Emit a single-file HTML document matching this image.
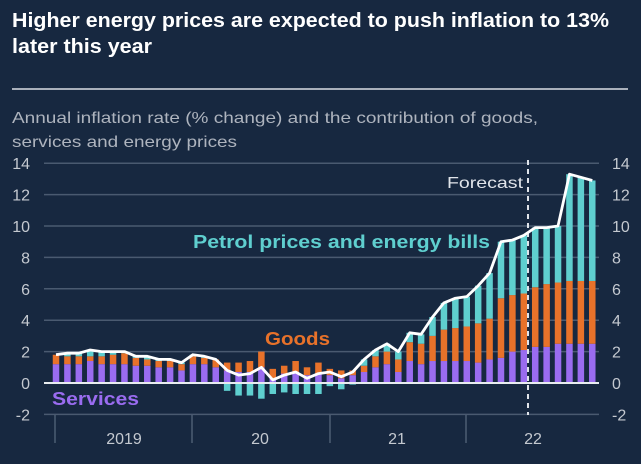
<!DOCTYPE html>
<html><head><meta charset="utf-8"><style>
html,body{margin:0;padding:0;background:#172840;}
svg{display:block;font-family:"Liberation Sans",Arial,sans-serif;}
</style></head><body>
<svg id="c" width="641" height="464" viewBox="0 0 641 464" xmlns="http://www.w3.org/2000/svg">
<rect width="641" height="464" fill="#172840"/>
<text x="12" y="27" fill="#fff" font-size="20" font-weight="bold" textLength="597" lengthAdjust="spacingAndGlyphs">Higher energy prices are expected to push inflation to 13%</text>
<text x="12" y="53" fill="#fff" font-size="20" font-weight="bold" textLength="140" lengthAdjust="spacingAndGlyphs">later this year</text>
<rect x="12" y="88" width="616" height="2" fill="#a9b0bb"/>
<text x="12" y="123" fill="#aeb4be" font-size="16" textLength="526" lengthAdjust="spacingAndGlyphs">Annual inflation rate (% change) and the contribution of goods,</text>
<text x="12" y="147" fill="#aeb4be" font-size="16" textLength="225" lengthAdjust="spacingAndGlyphs">services and energy prices</text>
<g id="grid"></g>
<g id="bars"></g>
<g id="fg"></g>
</svg>
<script>
var NS="http://www.w3.org/2000/svg";
function el(p,t,a,txt){var e=document.createElementNS(NS,t);for(var k in a)e.setAttribute(k,a[k]);if(txt!==undefined)e.textContent=txt;p.appendChild(e);return e;}
var Y=function(v){return 383-v*15.7;};
var grid=document.getElementById('grid'),bars=document.getElementById('bars'),fg=document.getElementById('fg');
for(var v=-2;v<=14;v+=2){
  if(v!==0) el(grid,'line',{x1:44,x2:599,y1:Y(v),y2:Y(v),stroke:'#4a5a70','stroke-width':1.5});
  el(grid,'text',{x:30,y:Y(v)+6,fill:'#c4c9d0','font-size':16,'text-anchor':'end'},v);
  el(grid,'text',{x:612,y:Y(v)+6,fill:'#c4c9d0','font-size':16},v);
}
[55,192,330,466].forEach(function(x){el(grid,'line',{x1:x,x2:x,y1:415,y2:443,stroke:'#5a6a80','stroke-width':1.2});});
[[124,'2019'],[260,'20'],[397,'21'],[533,'22']].forEach(function(a){el(grid,'text',{x:a[0],y:444,fill:'#c4c9d0','font-size':16,'text-anchor':'middle'},a[1]);});
var T=[1.8,1.9,1.9,2.1,2.0,2.0,2.0,1.7,1.7,1.5,1.5,1.3, 1.8,1.7,1.5,0.8,0.5,0.6,1.0,0.2,0.5,0.7,0.3,0.6, 0.7,0.4,0.7,1.5,2.1,2.5,2.0,3.2,3.1,4.2,5.1,5.4, 5.5,6.2,7.0,9.0,9.1,9.4,9.9,9.9,10.0,13.3,13.1,12.9];
var S=[1.2,1.2,1.2,1.4,1.2,1.2,1.2,1.1,1.1,1.0,1.0,0.8, 1.2,1.2,1.0,0.8,0.7,0.7,1.0,0.3,0.6,0.7,0.5,0.6, 0.5,0.3,0.5,0.7,1.0,1.2,0.7,1.4,1.2,1.4,1.4,1.4, 1.4,1.3,1.5,1.6,2.0,2.1,2.3,2.3,2.5,2.5,2.5,2.5];
var G=[0.6,0.5,0.5,0.3,0.5,0.6,0.7,0.5,0.4,0.4,0.4,0.4, 0.5,0.4,0.5,0.5,0.6,0.7,1.0,0.6,0.5,0.7,0.5,0.7, 0.4,0.5,0.3,0.4,0.7,0.8,0.8,1.2,1.3,1.6,2.0,2.1, 2.2,2.5,2.6,3.8,3.6,3.6,3.8,4.0,3.9,4.0,4.0,4.0];
var pts=[];
for(var i=0;i<48;i++){
  var x=56+i*11.41, w=6.5, s=S[i], g=G[i], e=T[i]-s-g;
  el(bars,'rect',{x:x-w/2,y:Y(s),width:w,height:s*15.7,fill:'#9a6cf0'});
  el(bars,'rect',{x:x-w/2,y:Y(s+g),width:w,height:g*15.7,fill:'#e8722a'});
  if(e>=0) el(bars,'rect',{x:x-w/2,y:Y(s+g+e),width:w,height:e*15.7,fill:'#5fcfcf'});
  else el(bars,'rect',{x:x-w/2,y:Y(0),width:w,height:-e*15.7,fill:'#5fcfcf'});
  pts.push(x.toFixed(1)+','+Y(T[i]).toFixed(1));
}
el(fg,'line',{x1:44,x2:599,y1:Y(0),y2:Y(0),stroke:'#e8ecf0','stroke-width':2});
el(fg,'line',{x1:528,x2:528,y1:160,y2:415,stroke:'#e0e4ea','stroke-width':2,'stroke-dasharray':'5,4'});
el(fg,'polyline',{points:pts.join(' '),fill:'none',stroke:'#fff','stroke-width':2.8,'stroke-linejoin':'round'});
el(fg,'text',{x:447,y:188,fill:'#e0e4ea','font-size':16,textLength:76,lengthAdjust:'spacingAndGlyphs'},'Forecast');
el(fg,'text',{x:193,y:248,fill:'#5fcfcf','font-size':18,'font-weight':'bold',textLength:297,lengthAdjust:'spacingAndGlyphs'},'Petrol prices and energy bills');
el(fg,'text',{x:265,y:345,fill:'#e8722a','font-size':18,'font-weight':'bold',textLength:65,lengthAdjust:'spacingAndGlyphs'},'Goods');
el(fg,'text',{x:52,y:405,fill:'#9a6cf0','font-size':18,'font-weight':'bold',textLength:87,lengthAdjust:'spacingAndGlyphs'},'Services');
</script>
</body></html>
